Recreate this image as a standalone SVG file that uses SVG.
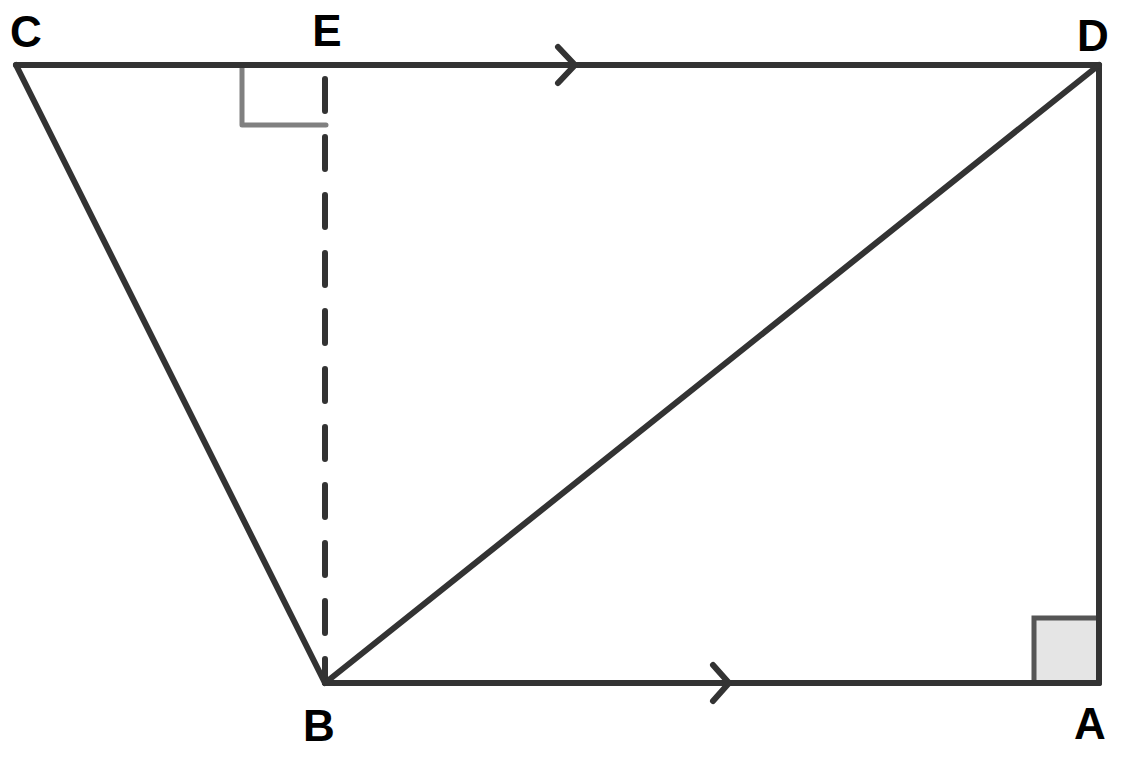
<svg xmlns="http://www.w3.org/2000/svg" width="1129" height="758" viewBox="0 0 1129 758">
<style>
.ln{stroke:#333;stroke-width:6;stroke-linecap:round;fill:none}
.ra{stroke:#808080;stroke-width:5;stroke-linecap:round;stroke-linejoin:round;fill:none}
.lbl{font-family:"Liberation Sans",Arial,sans-serif;font-weight:bold;font-size:44px;fill:#000;text-anchor:middle}
</style>
<rect width="1129" height="758" fill="#fff"/>
<g id="connectors">
<rect x="1034" y="618" width="65" height="65" fill="#e5e5e5" stroke="#555" stroke-width="5"/>
<polyline class="ra" points="242,65 242,125 326,125"/>
<line class="ln" x1="325" y1="79" x2="325" y2="683" stroke-dasharray="32,26" stroke-linecap="butt"/>
<line class="ln" x1="16" y1="65" x2="1099" y2="65"/>
<line class="ln" x1="1099" y1="65" x2="1099" y2="683"/>
<line class="ln" x1="325" y1="683" x2="1099" y2="683"/>
<line class="ln" x1="16" y1="65" x2="325" y2="683"/>
<line class="ln" x1="325" y1="683" x2="1099" y2="65"/>
<polyline class="ln" stroke-linejoin="round" points="558,47 575,65 558,83"/>
<polyline class="ln" stroke-linejoin="round" points="713,665 729,683 713,701"/>
</g>
<g id="C"><text class="lbl" x="26" y="47">C</text></g>
<g id="E"><text class="lbl" x="327" y="46">E</text></g>
<g id="D"><text class="lbl" x="1093" y="51">D</text></g>
<g id="B"><text class="lbl" x="319" y="741">B</text></g>
<g id="A"><text class="lbl" x="1090" y="739">A</text></g>
</svg>
